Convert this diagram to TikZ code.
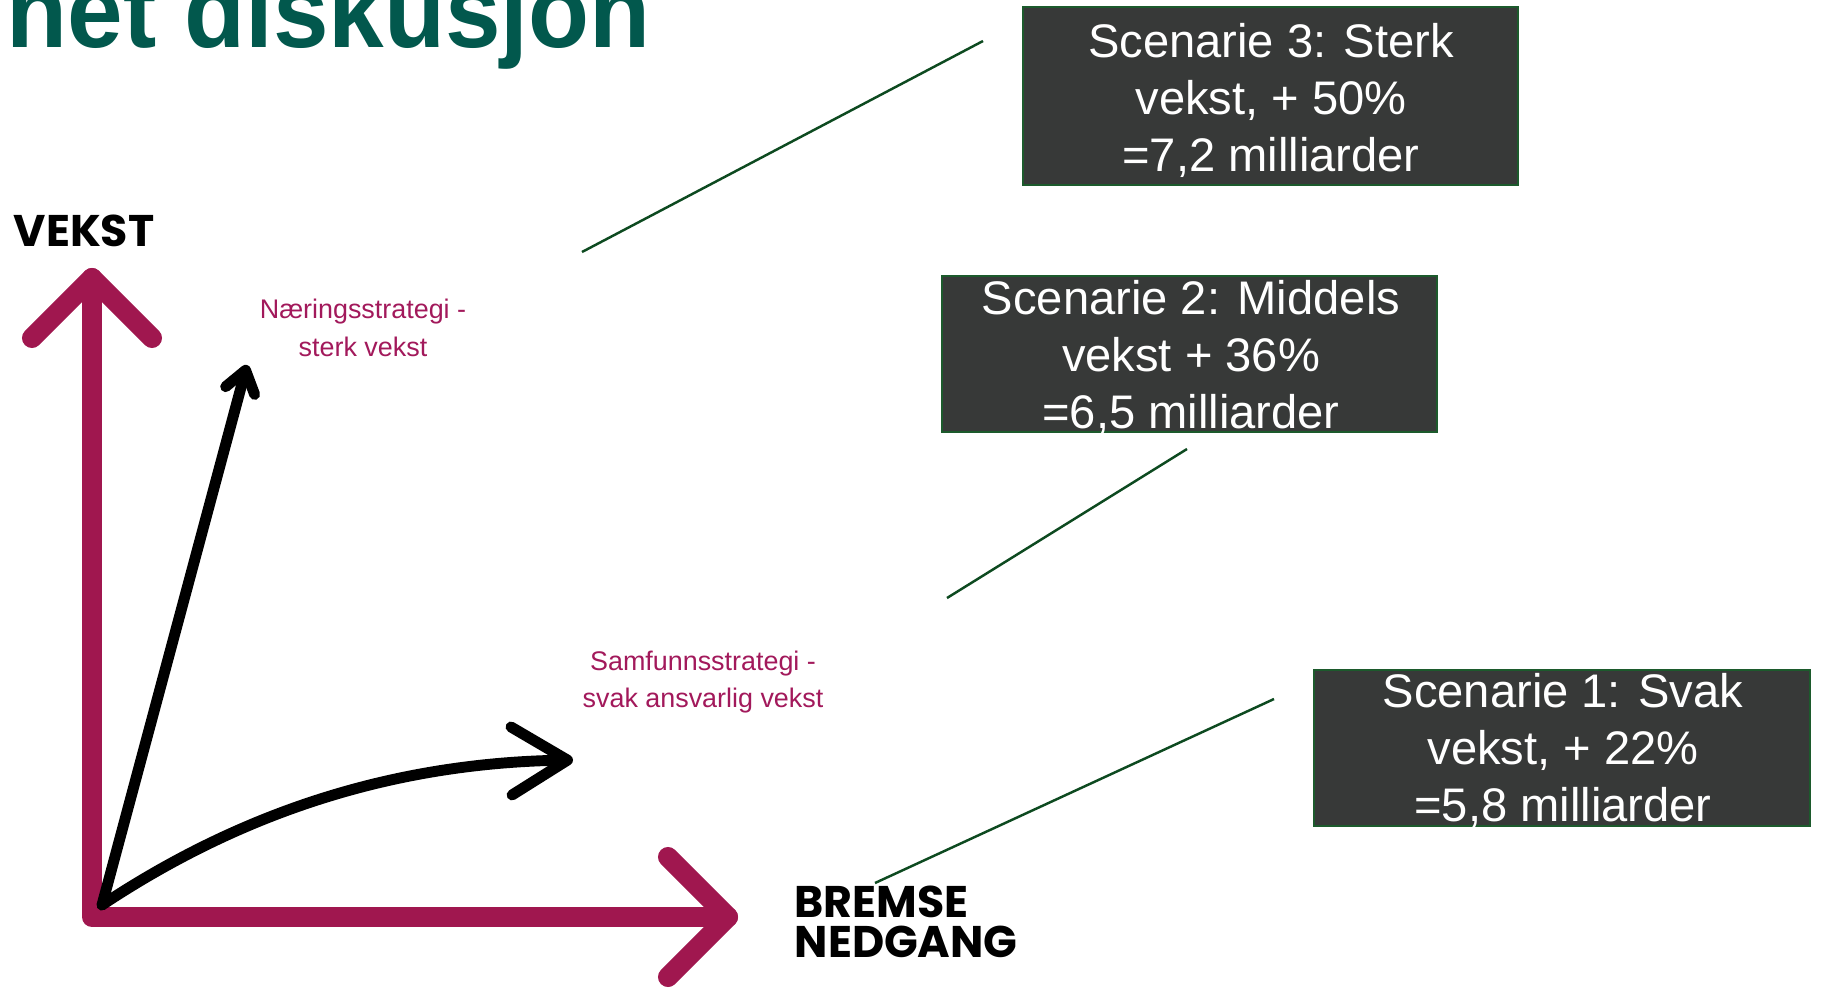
\documentclass[tikz,border=0pt]{standalone}
\usepackage{fontspec}
\usepackage{graphicx}
\setmainfont{Liberation Sans}
\newfontfamily\poppins{Poppins}
\usetikzlibrary{arrows.meta}
\definecolor{axispink}{HTML}{A0174F}
\definecolor{labelpink}{HTML}{A2195B}
\definecolor{titlegreen}{HTML}{02584D}
\definecolor{boxgrey}{HTML}{373938}
\definecolor{boxedge}{HTML}{1C5A2C}
\definecolor{leadgreen}{HTML}{0D4A20}

\begin{document}
\begin{tikzpicture}[
  x=0.01cm, y=-0.01cm,
  axis/.style={draw=axispink, line width=5.7pt, line cap=round, line join=round},
  strategy/.style={draw=black, line width=3.1pt, line cap=round, line join=round},
  smalltip/.style={-{Straight Barb[length=0.21cm, width=0.30cm, round]}},
  bigtip/.style={-{Straight Barb[length=0.56cm, width=0.68cm, round]}},
  axislabel/.style={inner sep=0, font=\poppins\bfseries\fontsize{12.6}{11.4}\selectfont, align=left},
  stratlabel/.style={inner sep=0, text=labelpink, font=\fontsize{7.65}{10.6}\selectfont, align=center},
  scenbox/.style={draw=boxedge, fill=boxgrey, line width=0.6pt, minimum width=4.95cm, minimum height=1.56cm, inner sep=0},
  scentext/.style={anchor=north, inner sep=0, text=white, font=\fontsize{13.4}{16.2}\selectfont, align=center},
  lead/.style={draw=leadgreen, line width=0.7pt}
]
\useasboundingbox (0,0) rectangle (1821,987);

% Title (cut at the top edge)
\node[anchor=base west, inner sep=0, text=titlegreen, font=\bfseries\fontsize{29.9}{30}\selectfont] (title) at (6,47) {\scalebox{0.95}[1]{net diskusjon}};

% Axes
\coordinate (origin) at (92,917);
\coordinate (y_top) at (92,278);
\coordinate (x_end) at (728,917);
\draw[axis] (y_top) -- (origin) -- (x_end);
\draw[axis] (y_top) ++(-60,60) -- (y_top) -- ++(60,60);
\draw[axis] (x_end) ++(-60,-60) -- (x_end) -- ++(-60,60);

\node[axislabel, anchor=west] (vekst) at (13,231) {VEKST};
\node[axislabel, anchor=west] (bremse) at (794,922) {BREMSE\\NEDGANG};

% Strategies
\coordinate (start) at (102,905);
\coordinate (naering_end) at (247,365);
\coordinate (samfunn_end) at (573,760);
\draw[strategy, smalltip] (start) -- (naering_end);
\draw[strategy, bigtip] (start) .. controls (230,820) and (380,763) .. (samfunn_end);

\node[stratlabel] (naering) at (363,328) {Næringsstrategi -\\sterk vekst};
\node[stratlabel] (samfunn) at (703,682) {Samfunnsstrategi -\\svak ansvarlig vekst};

% Scenarios
\node[scenbox, minimum height=1.78cm] (scen3) at (1270.5,96) {};
\node[scentext] (scen3_txt) at (1271,23) {Scenarie 3: Sterk\\vekst, + 50\%\\=7,2 milliarder};

\node[scenbox] (scen2) at (1189.5,354) {};
\node[scentext] (scen2_txt) at (1191,280) {Scenarie 2: Middels\\vekst + 36\%\\=6,5 milliarder};

\node[scenbox] (scen1) at (1562,748) {};
\node[scentext] (scen1_txt) at (1563,673) {Scenarie 1: Svak\\vekst, + 22\%\\=5,8 milliarder};

% Lead lines
\coordinate (lead3_a) at (582,252);
\coordinate (lead3_b) at (983,41);
\coordinate (lead2_a) at (947,598);
\coordinate (lead2_b) at (1187,449);
\coordinate (lead1_a) at (875,883);
\coordinate (lead1_b) at (1274,699);
\draw[lead] (lead3_a) -- (lead3_b);
\draw[lead] (lead2_a) -- (lead2_b);
\draw[lead] (lead1_a) -- (lead1_b);

\end{tikzpicture}
\end{document}
